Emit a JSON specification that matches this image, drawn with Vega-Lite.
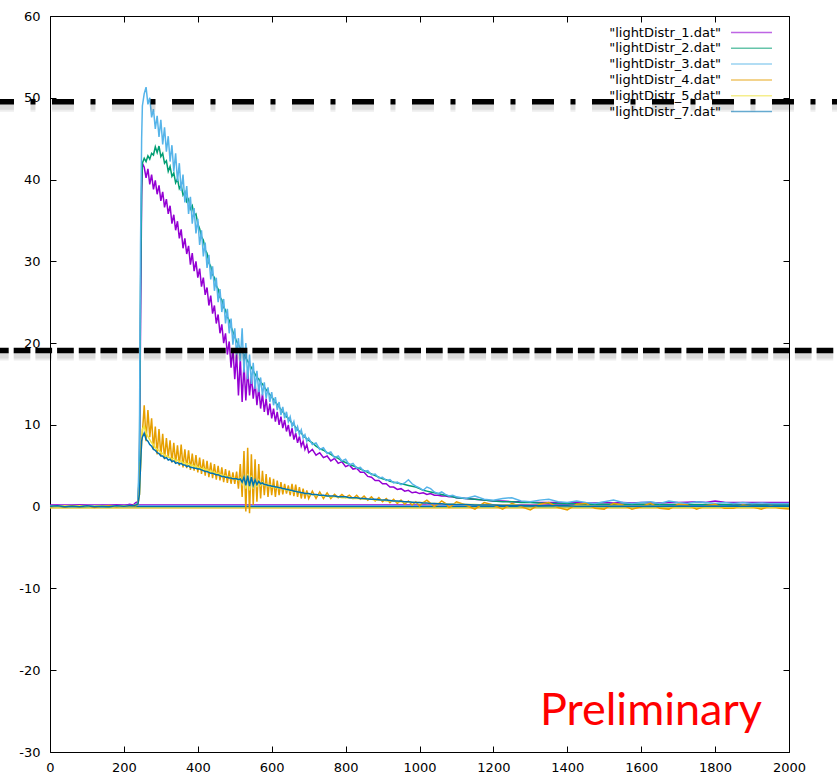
{
"$schema": "https://vega.github.io/schema/vega-lite/v6.json",
"width": 739, "height": 736,
"autosize": {"type": "none"},
"padding": {"left": 50, "top": 16, "right": 48, "bottom": 21},
"background": "white",
"config": {"view": {"stroke": "black", "strokeWidth": 1}, "font": "DejaVu Sans",
  "axis": {"grid": false, "domain": false, "tickColor": "black", "tickSize": -6, "labelFont": "DejaVu Sans", "labelFontSize": 13, "labelColor": "black", "title": null}},
"datasets": {
"curves": [
{"x":0,"d1":0.1,"d2":0.05,"d3":0.1,"d4":0.0,"d5":0.05,"d7":0.05},
{"x":20,"d1":0.15,"d2":0.1,"d3":0.05,"d4":0.1,"d5":0.0,"d7":0.1},
{"x":40,"d1":0.05,"d2":0.0,"d3":0.1,"d4":-0.05,"d5":0.1,"d7":0.0},
{"x":60,"d1":0.1,"d2":0.1,"d3":0.0,"d4":0.1,"d5":0.0,"d7":0.05},
{"x":80,"d1":0.2,"d2":0.05,"d3":0.1,"d4":0.0,"d5":0.1,"d7":0.0},
{"x":100,"d1":0.1,"d2":0.0,"d3":0.05,"d4":0.1,"d5":0.0,"d7":0.1},
{"x":120,"d1":0.0,"d2":0.1,"d3":0.1,"d4":-0.1,"d5":0.05,"d7":0.0},
{"x":140,"d1":0.15,"d2":0.05,"d3":0.0,"d4":0.05,"d5":0.1,"d7":0.05},
{"x":160,"d1":0.1,"d2":0.0,"d3":0.1,"d4":0.1,"d5":0.0,"d7":0.0},
{"x":180,"d1":0.2,"d2":0.1,"d3":0.05,"d4":0.0,"d5":0.05,"d7":0.1},
{"x":200,"d1":0.1,"d2":0.05,"d3":0.1,"d4":0.1,"d5":0.1,"d7":0.05},
{"x":215,"d1":0.3,"d2":0.1,"d3":0.15,"d4":0.05,"d5":0.1,"d7":0.1},
{"x":225,"d1":0.2,"d2":0.15,"d3":0.1,"d4":0.15,"d5":0.15,"d7":0.1},
{"x":232,"d1":0.5,"d2":0.2,"d3":0.2,"d4":0.1,"d5":0.2,"d7":0.2},
{"x":238,"d1":0.6,"d2":0.4,"d3":0.5,"d4":0.3,"d5":0.3,"d7":0.3},
{"x":242,"d1":4,"d2":5,"d3":8,"d4":1.5,"d5":1.5,"d7":1.5},
{"x":245,"d1":22,"d2":26,"d3":32,"d4":5,"d5":5,"d7":5},
{"x":248,"d1":38,"d2":39,"d3":45,"d4":8,"d5":8.5,"d7":8},
{"x":250,"d1":42.0,"d2":42.0,"d3":49.0,"d4":9.0,"d5":9.5,"d7":8.5},
{"x":255,"d1":41.5,"d2":42.6,"d3":50.5,"d4":12.4,"d5":9.8,"d7":9.0},
{"x":260,"d1":40.2,"d2":42.2,"d3":51.3,"d4":8.0,"d5":9.0,"d7":8.2},
{"x":265,"d1":41.3,"d2":42.9,"d3":49.2,"d4":11.8,"d5":8.6,"d7":8.0},
{"x":270,"d1":39.4,"d2":42.5,"d3":50.0,"d4":8.5,"d5":8.2,"d7":7.6},
{"x":275,"d1":40.6,"d2":43.2,"d3":47.6,"d4":10.8,"d5":7.8,"d7":7.4},
{"x":280,"d1":38.8,"d2":43.0,"d3":48.6,"d4":7.0,"d5":7.6,"d7":7.0},
{"x":285,"d1":39.9,"d2":44.0,"d3":46.2,"d4":9.8,"d5":7.2,"d7":6.9},
{"x":290,"d1":38.2,"d2":43.3,"d3":47.8,"d4":6.4,"d5":7.0,"d7":6.6},
{"x":295,"d1":39.3,"d2":44.1,"d3":45.2,"d4":9.5,"d5":6.9,"d7":6.5},
{"x":300,"d1":37.4,"d2":42.8,"d3":47.3,"d4":6.2,"d5":6.6,"d7":6.2},
{"x":305,"d1":38.5,"d2":43.2,"d3":44.3,"d4":8.9,"d5":6.5,"d7":6.2},
{"x":310,"d1":36.6,"d2":42.0,"d3":46.4,"d4":5.8,"d5":6.3,"d7":5.9},
{"x":315,"d1":37.6,"d2":42.3,"d3":43.4,"d4":8.4,"d5":6.2,"d7":6.0},
{"x":320,"d1":35.8,"d2":41.0,"d3":45.3,"d4":6.0,"d5":6.1,"d7":5.7},
{"x":325,"d1":36.8,"d2":41.6,"d3":42.2,"d4":8.1,"d5":6.0,"d7":5.8},
{"x":330,"d1":34.6,"d2":40.4,"d3":44.2,"d4":5.4,"d5":5.8,"d7":5.5},
{"x":335,"d1":35.7,"d2":40.8,"d3":41.0,"d4":7.8,"d5":5.9,"d7":5.6},
{"x":340,"d1":33.8,"d2":39.6,"d3":43.2,"d4":5.3,"d5":5.6,"d7":5.3},
{"x":345,"d1":34.9,"d2":40.1,"d3":39.8,"d4":7.5,"d5":5.7,"d7":5.4},
{"x":350,"d1":32.8,"d2":38.9,"d3":42.0,"d4":5.0,"d5":5.5,"d7":5.2},
{"x":355,"d1":33.9,"d2":39.3,"d3":38.6,"d4":7.6,"d5":5.6,"d7":5.3},
{"x":360,"d1":31.6,"d2":38.1,"d3":40.6,"d4":4.8,"d5":5.3,"d7":5.1},
{"x":365,"d1":32.8,"d2":38.5,"d3":37.2,"d4":7.0,"d5":5.4,"d7":5.1},
{"x":370,"d1":30.9,"d2":37.3,"d3":39.2,"d4":4.7,"d5":5.2,"d7":4.9},
{"x":375,"d1":31.9,"d2":37.6,"d3":35.8,"d4":6.9,"d5":5.3,"d7":5.0},
{"x":380,"d1":29.6,"d2":36.4,"d3":37.9,"d4":4.5,"d5":5.0,"d7":4.8},
{"x":385,"d1":31.0,"d2":36.8,"d3":34.6,"d4":6.5,"d5":5.1,"d7":4.8},
{"x":390,"d1":28.8,"d2":35.6,"d3":36.5,"d4":4.4,"d5":4.9,"d7":4.7},
{"x":395,"d1":30.0,"d2":35.8,"d3":33.4,"d4":6.3,"d5":5.0,"d7":4.7},
{"x":400,"d1":28.0,"d2":34.6,"d3":35.2,"d4":4.2,"d5":4.8,"d7":4.6},
{"x":405,"d1":29.1,"d2":34.0,"d3":32.0,"d4":6.0,"d5":4.8,"d7":4.6},
{"x":410,"d1":26.9,"d2":33.0,"d3":33.8,"d4":4.0,"d5":4.6,"d7":4.5},
{"x":415,"d1":28.0,"d2":32.6,"d3":30.6,"d4":5.8,"d5":4.7,"d7":4.4},
{"x":420,"d1":25.9,"d2":31.4,"d3":32.3,"d4":3.8,"d5":4.5,"d7":4.3},
{"x":425,"d1":26.8,"d2":31.0,"d3":29.2,"d4":5.6,"d5":4.5,"d7":4.3},
{"x":430,"d1":24.6,"d2":29.8,"d3":30.8,"d4":3.6,"d5":4.3,"d7":4.2},
{"x":435,"d1":25.8,"d2":29.4,"d3":27.8,"d4":5.4,"d5":4.4,"d7":4.1},
{"x":440,"d1":23.6,"d2":28.4,"d3":29.4,"d4":3.5,"d5":4.2,"d7":4.1},
{"x":445,"d1":24.6,"d2":28.0,"d3":26.4,"d4":5.2,"d5":4.2,"d7":4.0},
{"x":450,"d1":22.4,"d2":27.0,"d3":28.0,"d4":3.3,"d5":4.0,"d7":3.9},
{"x":455,"d1":23.5,"d2":26.6,"d3":25.0,"d4":5.0,"d5":4.1,"d7":3.9},
{"x":460,"d1":21.2,"d2":25.6,"d3":26.6,"d4":3.2,"d5":3.9,"d7":3.8},
{"x":465,"d1":22.3,"d2":25.3,"d3":23.8,"d4":4.8,"d5":3.9,"d7":3.7},
{"x":470,"d1":20.0,"d2":24.4,"d3":25.4,"d4":3.0,"d5":3.7,"d7":3.7},
{"x":475,"d1":21.2,"d2":24.0,"d3":22.4,"d4":4.6,"d5":3.8,"d7":3.6},
{"x":480,"d1":18.6,"d2":23.2,"d3":24.2,"d4":2.9,"d5":3.6,"d7":3.6},
{"x":485,"d1":20.2,"d2":22.8,"d3":21.2,"d4":4.4,"d5":3.6,"d7":3.5},
{"x":490,"d1":17.0,"d2":22.0,"d3":23.0,"d4":2.8,"d5":3.5,"d7":3.5},
{"x":495,"d1":19.4,"d2":21.4,"d3":19.8,"d4":4.2,"d5":3.5,"d7":3.4},
{"x":500,"d1":15.6,"d2":20.8,"d3":21.8,"d4":2.8,"d5":3.4,"d7":3.4},
{"x":505,"d1":18.8,"d2":20.2,"d3":18.6,"d4":4.3,"d5":3.4,"d7":3.4},
{"x":510,"d1":13.6,"d2":19.8,"d3":20.6,"d4":2.2,"d5":3.2,"d7":3.3},
{"x":515,"d1":18.2,"d2":19.4,"d3":17.8,"d4":5.2,"d5":3.5,"d7":3.4},
{"x":520,"d1":12.8,"d2":19.0,"d3":21.8,"d4":1.2,"d5":2.8,"d7":3.0},
{"x":525,"d1":17.4,"d2":18.6,"d3":16.4,"d4":6.8,"d5":3.8,"d7":3.6},
{"x":530,"d1":13.0,"d2":18.2,"d3":20.0,"d4":-0.6,"d5":2.2,"d7":2.6},
{"x":535,"d1":16.8,"d2":17.8,"d3":15.6,"d4":7.2,"d5":4.0,"d7":3.8},
{"x":540,"d1":13.6,"d2":17.4,"d3":18.6,"d4":-0.8,"d5":2.0,"d7":2.5},
{"x":545,"d1":16.0,"d2":17.0,"d3":15.0,"d4":6.4,"d5":3.8,"d7":3.6},
{"x":550,"d1":13.2,"d2":16.6,"d3":17.6,"d4":0.2,"d5":2.2,"d7":2.6},
{"x":555,"d1":15.2,"d2":16.2,"d3":14.4,"d4":5.8,"d5":3.4,"d7":3.3},
{"x":560,"d1":12.4,"d2":15.8,"d3":16.6,"d4":0.6,"d5":2.4,"d7":2.7},
{"x":565,"d1":14.6,"d2":15.6,"d3":14.0,"d4":5.2,"d5":3.2,"d7":3.1},
{"x":570,"d1":12.0,"d2":15.2,"d3":15.8,"d4":1.0,"d5":2.6,"d7":2.8},
{"x":575,"d1":13.8,"d2":15.0,"d3":13.6,"d4":4.4,"d5":3.0,"d7":2.9},
{"x":580,"d1":11.6,"d2":14.6,"d3":15.2,"d4":1.4,"d5":2.6,"d7":2.7},
{"x":585,"d1":13.2,"d2":14.3,"d3":13.2,"d4":4.0,"d5":2.8,"d7":2.7},
{"x":590,"d1":11.2,"d2":14.0,"d3":14.6,"d4":1.2,"d5":2.5,"d7":2.6},
{"x":595,"d1":12.6,"d2":13.7,"d3":12.8,"d4":3.6,"d5":2.7,"d7":2.6},
{"x":600,"d1":10.8,"d2":13.4,"d3":14.0,"d4":1.4,"d5":2.4,"d7":2.5},
{"x":605,"d1":12.0,"d2":13.1,"d3":12.4,"d4":3.4,"d5":2.5,"d7":2.5},
{"x":610,"d1":10.4,"d2":12.8,"d3":13.4,"d4":1.2,"d5":2.3,"d7":2.4},
{"x":615,"d1":11.6,"d2":12.5,"d3":11.8,"d4":3.2,"d5":2.4,"d7":2.4},
{"x":620,"d1":10.0,"d2":12.2,"d3":12.8,"d4":1.4,"d5":2.2,"d7":2.3},
{"x":625,"d1":11.0,"d2":11.9,"d3":11.2,"d4":3.0,"d5":2.3,"d7":2.3},
{"x":630,"d1":9.6,"d2":11.6,"d3":12.2,"d4":1.5,"d5":2.1,"d7":2.2},
{"x":635,"d1":10.6,"d2":11.3,"d3":10.8,"d4":2.8,"d5":2.2,"d7":2.2},
{"x":640,"d1":9.2,"d2":11.0,"d3":11.6,"d4":1.6,"d5":2.0,"d7":2.1},
{"x":645,"d1":10.0,"d2":10.8,"d3":10.4,"d4":2.6,"d5":2.1,"d7":2.1},
{"x":650,"d1":8.6,"d2":10.5,"d3":11.0,"d4":1.4,"d5":1.9,"d7":2.0},
{"x":655,"d1":9.6,"d2":10.2,"d3":9.8,"d4":2.8,"d5":2.0,"d7":2.0},
{"x":660,"d1":8.2,"d2":10.0,"d3":10.4,"d4":1.3,"d5":1.8,"d7":1.9},
{"x":665,"d1":9.0,"d2":9.7,"d3":9.2,"d4":2.7,"d5":1.9,"d7":1.9},
{"x":670,"d1":7.8,"d2":9.4,"d3":9.8,"d4":1.2,"d5":1.8,"d7":1.8},
{"x":675,"d1":8.6,"d2":9.2,"d3":8.8,"d4":2.4,"d5":1.8,"d7":1.8},
{"x":680,"d1":7.4,"d2":9.0,"d3":9.4,"d4":1.0,"d5":1.7,"d7":1.7},
{"x":685,"d1":8.0,"d2":8.7,"d3":8.4,"d4":2.2,"d5":1.7,"d7":1.7},
{"x":690,"d1":7.0,"d2":8.5,"d3":8.8,"d4":1.0,"d5":1.6,"d7":1.6},
{"x":695,"d1":7.6,"d2":8.3,"d3":8.0,"d4":2.0,"d5":1.6,"d7":1.6},
{"x":700,"d1":6.6,"d2":8.1,"d3":8.4,"d4":1.0,"d5":1.5,"d7":1.6},
{"x":710,"d1":7.0,"d2":7.8,"d3":7.6,"d4":1.9,"d5":1.5,"d7":1.5},
{"x":720,"d1":6.3,"d2":7.4,"d3":7.8,"d4":1.0,"d5":1.4,"d7":1.5},
{"x":730,"d1":6.6,"d2":7.1,"d3":7.0,"d4":1.8,"d5":1.4,"d7":1.4},
{"x":740,"d1":6.0,"d2":6.9,"d3":7.2,"d4":1.0,"d5":1.3,"d7":1.4},
{"x":750,"d1":6.2,"d2":6.6,"d3":6.5,"d4":1.7,"d5":1.3,"d7":1.3},
{"x":760,"d1":5.6,"d2":6.4,"d3":6.7,"d4":1.0,"d5":1.2,"d7":1.3},
{"x":770,"d1":5.9,"d2":6.1,"d3":6.0,"d4":1.5,"d5":1.2,"d7":1.3},
{"x":780,"d1":5.3,"d2":5.9,"d3":6.2,"d4":1.1,"d5":1.2,"d7":1.2},
{"x":790,"d1":5.5,"d2":5.6,"d3":5.6,"d4":1.5,"d5":1.1,"d7":1.2},
{"x":800,"d1":4.9,"d2":5.4,"d3":5.8,"d4":1.1,"d5":1.1,"d7":1.2},
{"x":810,"d1":5.1,"d2":5.2,"d3":5.1,"d4":1.4,"d5":1.1,"d7":1.1},
{"x":820,"d1":4.6,"d2":5.0,"d3":5.3,"d4":1.0,"d5":1.0,"d7":1.1},
{"x":830,"d1":4.7,"d2":4.8,"d3":4.7,"d4":1.4,"d5":1.0,"d7":1.1},
{"x":840,"d1":4.2,"d2":4.6,"d3":4.8,"d4":0.9,"d5":1.0,"d7":1.0},
{"x":850,"d1":4.2,"d2":4.4,"d3":4.3,"d4":1.3,"d5":0.9,"d7":1.0},
{"x":860,"d1":3.7,"d2":4.2,"d3":4.4,"d4":0.8,"d5":0.9,"d7":0.95},
{"x":870,"d1":3.6,"d2":4.0,"d3":3.9,"d4":1.2,"d5":0.9,"d7":0.9},
{"x":880,"d1":3.2,"d2":3.8,"d3":4.0,"d4":0.7,"d5":0.8,"d7":0.9},
{"x":890,"d1":3.2,"d2":3.6,"d3":3.5,"d4":1.1,"d5":0.8,"d7":0.85},
{"x":900,"d1":2.8,"d2":3.4,"d3":3.6,"d4":0.6,"d5":0.8,"d7":0.8},
{"x":910,"d1":2.8,"d2":3.3,"d3":3.2,"d4":1.0,"d5":0.7,"d7":0.8},
{"x":920,"d1":2.4,"d2":3.1,"d3":3.3,"d4":0.5,"d5":0.7,"d7":0.75},
{"x":930,"d1":2.4,"d2":3.0,"d3":2.9,"d4":0.9,"d5":0.7,"d7":0.7},
{"x":940,"d1":2.1,"d2":2.9,"d3":3.0,"d4":0.4,"d5":0.6,"d7":0.7},
{"x":950,"d1":2.2,"d2":2.8,"d3":2.7,"d4":0.8,"d5":0.6,"d7":0.65},
{"x":960,"d1":1.9,"d2":2.7,"d3":2.9,"d4":0.3,"d5":0.6,"d7":0.6},
{"x":970,"d1":2.0,"d2":2.6,"d3":3.3,"d4":0.7,"d5":0.6,"d7":0.6},
{"x":980,"d1":1.7,"d2":2.5,"d3":2.8,"d4":0.2,"d5":0.5,"d7":0.55},
{"x":990,"d1":1.8,"d2":2.4,"d3":2.5,"d4":0.6,"d5":0.5,"d7":0.5},
{"x":1000,"d1":1.6,"d2":2.2,"d3":2.3,"d4":0.1,"d5":0.5,"d7":0.5},
{"x":1010,"d1":1.7,"d2":2.0,"d3":2.0,"d4":0.5,"d5":0.5,"d7":0.45},
{"x":1020,"d1":1.5,"d2":1.9,"d3":2.4,"d4":0.8,"d5":0.4,"d7":0.45},
{"x":1030,"d1":1.6,"d2":1.8,"d3":2.2,"d4":0.4,"d5":0.4,"d7":0.4},
{"x":1040,"d1":1.4,"d2":1.7,"d3":1.8,"d4":0.0,"d5":0.4,"d7":0.4},
{"x":1050,"d1":1.4,"d2":1.6,"d3":1.6,"d4":0.3,"d5":0.4,"d7":0.35},
{"x":1060,"d1":1.3,"d2":1.5,"d3":1.8,"d4":0.7,"d5":0.35,"d7":0.35},
{"x":1070,"d1":1.3,"d2":1.4,"d3":1.5,"d4":0.4,"d5":0.35,"d7":0.3},
{"x":1080,"d1":1.2,"d2":1.3,"d3":1.3,"d4":-0.1,"d5":0.3,"d7":0.3},
{"x":1090,"d1":1.2,"d2":1.2,"d3":1.4,"d4":0.2,"d5":0.3,"d7":0.3},
{"x":1100,"d1":1.1,"d2":1.1,"d3":1.2,"d4":0.6,"d5":0.3,"d7":0.25},
{"x":1125,"d1":1.0,"d2":1.0,"d3":1.0,"d4":0.2,"d5":0.25,"d7":0.25},
{"x":1150,"d1":0.9,"d2":0.9,"d3":1.3,"d4":-0.3,"d5":0.25,"d7":0.2},
{"x":1175,"d1":0.8,"d2":0.8,"d3":0.9,"d4":0.5,"d5":0.2,"d7":0.2},
{"x":1200,"d1":0.7,"d2":0.7,"d3":0.8,"d4":0.2,"d5":0.2,"d7":0.2},
{"x":1225,"d1":0.7,"d2":0.6,"d3":1.0,"d4":-0.3,"d5":0.2,"d7":0.15},
{"x":1250,"d1":0.6,"d2":0.6,"d3":1.1,"d4":0.4,"d5":0.2,"d7":0.15},
{"x":1275,"d1":0.6,"d2":0.5,"d3":0.7,"d4":0.0,"d5":0.15,"d7":0.15},
{"x":1300,"d1":0.55,"d2":0.5,"d3":0.6,"d4":-0.4,"d5":0.15,"d7":0.1},
{"x":1325,"d1":0.5,"d2":0.45,"d3":0.8,"d4":0.3,"d5":0.15,"d7":0.1},
{"x":1350,"d1":0.5,"d2":0.4,"d3":0.9,"d4":0.5,"d5":0.1,"d7":0.1},
{"x":1375,"d1":0.5,"d2":0.4,"d3":0.6,"d4":-0.1,"d5":0.1,"d7":0.1},
{"x":1400,"d1":0.45,"d2":0.35,"d3":0.5,"d4":-0.4,"d5":0.1,"d7":0.1},
{"x":1425,"d1":0.5,"d2":0.35,"d3":0.7,"d4":0.3,"d5":0.1,"d7":0.05},
{"x":1450,"d1":0.45,"d2":0.3,"d3":0.5,"d4":0.4,"d5":0.1,"d7":0.05},
{"x":1475,"d1":0.45,"d2":0.3,"d3":0.4,"d4":-0.2,"d5":0.05,"d7":0.05},
{"x":1500,"d1":0.5,"d2":0.3,"d3":0.6,"d4":-0.3,"d5":0.05,"d7":0.05},
{"x":1525,"d1":0.45,"d2":0.3,"d3":0.8,"d4":0.4,"d5":0.05,"d7":0.05},
{"x":1550,"d1":0.5,"d2":0.3,"d3":0.5,"d4":0.2,"d5":0.05,"d7":0.05},
{"x":1575,"d1":0.45,"d2":0.3,"d3":0.4,"d4":-0.3,"d5":0.05,"d7":0.05},
{"x":1600,"d1":0.5,"d2":0.3,"d3":0.5,"d4":0.0,"d5":0.05,"d7":0.05},
{"x":1625,"d1":0.5,"d2":0.3,"d3":0.6,"d4":0.4,"d5":0.05,"d7":0.05},
{"x":1650,"d1":0.45,"d2":0.25,"d3":0.4,"d4":-0.2,"d5":0.05,"d7":0.05},
{"x":1675,"d1":0.5,"d2":0.25,"d3":0.7,"d4":-0.3,"d5":0.0,"d7":0.05},
{"x":1700,"d1":0.5,"d2":0.25,"d3":0.5,"d4":0.3,"d5":0.0,"d7":0.05},
{"x":1725,"d1":0.55,"d2":0.25,"d3":0.4,"d4":0.2,"d5":0.0,"d7":0.05},
{"x":1750,"d1":0.6,"d2":0.25,"d3":0.6,"d4":-0.3,"d5":0.0,"d7":0.05},
{"x":1775,"d1":0.5,"d2":0.25,"d3":0.5,"d4":0.1,"d5":0.0,"d7":0.05},
{"x":1800,"d1":0.7,"d2":0.25,"d3":0.4,"d4":0.3,"d5":0.0,"d7":0.05},
{"x":1825,"d1":0.55,"d2":0.25,"d3":0.5,"d4":-0.2,"d5":0.0,"d7":0.05},
{"x":1850,"d1":0.5,"d2":0.2,"d3":0.4,"d4":-0.2,"d5":0.0,"d7":0.05},
{"x":1875,"d1":0.5,"d2":0.2,"d3":0.5,"d4":0.2,"d5":0.0,"d7":0.05},
{"x":1900,"d1":0.5,"d2":0.2,"d3":0.4,"d4":0.0,"d5":0.0,"d7":0.05},
{"x":1925,"d1":0.5,"d2":0.2,"d3":0.45,"d4":-0.3,"d5":0.0,"d7":0.05},
{"x":1950,"d1":0.5,"d2":0.2,"d3":0.4,"d4":0.1,"d5":0.0,"d7":0.05},
{"x":1975,"d1":0.5,"d2":0.2,"d3":0.4,"d4":-0.2,"d5":0.0,"d7":0.05},
{"x":2000,"d1":0.5,"d2":0.2,"d3":0.4,"d4":-0.3,"d5":0.0,"d7":0.05}
],
"flat": [
{"s":"d1","v":0.2},{"s":"d2","v":0.0},{"s":"d3","v":0.1},{"s":"d4","v":-0.15},{"s":"d5","v":-0.1},{"s":"d7","v":0.0}
],
"one": [{}]
},
"resolve": {"axis": {"x": "independent", "y": "independent"}},
"layer": [
{
  "data": {"name": "flat"},
  "mark": {"type": "rule", "strokeWidth": 1.4},
  "encoding": {
    "y": {"field": "v", "type": "quantitative", "scale": {"domain": [-30, 60], "nice": false, "zero": false}, "axis": null},
    "color": {"field": "s", "type": "nominal",
      "scale": {"domain": ["d1","d2","d3","d4","d5","d7"], "range": ["#9400d3","#009e73","#56b4e9","#e69f00","#f0e442","#0072b2"]},
      "legend": {"orient": "none", "legendX": 695, "legendY": 10, "title": null, "padding": 0,
        "symbolType": "M-4,0H4", "symbolSize": 105, "symbolStrokeWidth": 1.5, "symbolOpacity": 0.6,
        "labelAlign": "right", "labelOffset": -37, "labelFontSize": 13, "labelFont": "DejaVu Sans", "labelColor": "black",
        "rowPadding": 1.8,
        "labelExpr": "'\"lightDistr_' + substring(datum.label, 1) + '.dat\"'"}}
  }
},
{
  "data": {"name": "curves"},
  "transform": [{"fold": ["d1","d2","d3","d4","d5","d7"], "as": ["s","v"]}],
  "mark": {"type": "line", "strokeWidth": 1.5},
  "encoding": {
    "x": {"field": "x", "type": "quantitative", "scale": {"domain": [0, 2000], "nice": false, "zero": false},
      "axis": {"orient": "bottom", "values": [0,200,400,600,800,1000,1200,1400,1600,1800,2000], "labelExpr": "toString(datum.value)", "labelPadding": 15, "labelFlush": false}},
    "y": {"field": "v", "type": "quantitative", "scale": {"domain": [-30, 60], "nice": false, "zero": false},
      "axis": {"orient": "left", "values": [-30,-20,-10,0,10,20,30,40,50,60], "labelExpr": "toString(datum.value)", "labelPadding": 16}},
    "color": {"field": "s", "type": "nominal",
      "scale": {"domain": ["d1","d2","d3","d4","d5","d7"], "range": ["#9400d3","#009e73","#56b4e9","#e69f00","#f0e442","#0072b2"]},
      "legend": {"orient": "none", "legendX": 695, "legendY": 10, "title": null, "padding": 0,
        "symbolType": "M-4,0H4", "symbolSize": 105, "symbolStrokeWidth": 1.5, "symbolOpacity": 0.6,
        "labelAlign": "right", "labelOffset": -37, "labelFontSize": 13, "labelFont": "DejaVu Sans", "labelColor": "black",
        "rowPadding": 1.8,
        "labelExpr": "'\"lightDistr_' + substring(datum.label, 1) + '.dat\"'"}}
  }
},
{
  "data": {"name": "one"},
  "mark": {"type": "rule", "color": "black", "opacity": 0.07, "strokeWidth": 10, "strokeDash": [22, 16.5, 5, 16.5], "yOffset": 5},
  "encoding": {"x": {"datum": -157, "scale": {"domain": [0, 2000], "nice": false, "zero": false}, "axis": null}, "x2": {"datum": 2140},
    "y": {"datum": 49.5, "scale": {"domain": [-30, 60], "nice": false, "zero": false}, "axis": null}}
},
{
  "data": {"name": "one"},
  "mark": {"type": "rule", "color": "black", "opacity": 0.08, "strokeWidth": 6, "strokeDash": [22, 16.5, 5, 16.5], "yOffset": 5},
  "encoding": {"x": {"datum": -157, "scale": {"domain": [0, 2000], "nice": false, "zero": false}, "axis": null}, "x2": {"datum": 2140},
    "y": {"datum": 49.5, "scale": {"domain": [-30, 60], "nice": false, "zero": false}, "axis": null}}
},
{
  "data": {"name": "one"},
  "mark": {"type": "rule", "color": "black", "opacity": 0.07, "strokeWidth": 10, "strokeDash": [16.7, 5], "yOffset": 5},
  "encoding": {"x": {"datum": -157, "scale": {"domain": [0, 2000], "nice": false, "zero": false}, "axis": null}, "x2": {"datum": 2140},
    "y": {"datum": 19.1, "scale": {"domain": [-30, 60], "nice": false, "zero": false}, "axis": null}}
},
{
  "data": {"name": "one"},
  "mark": {"type": "rule", "color": "black", "opacity": 0.08, "strokeWidth": 6, "strokeDash": [16.7, 5], "yOffset": 5},
  "encoding": {"x": {"datum": -157, "scale": {"domain": [0, 2000], "nice": false, "zero": false}, "axis": null}, "x2": {"datum": 2140},
    "y": {"datum": 19.1, "scale": {"domain": [-30, 60], "nice": false, "zero": false}, "axis": null}}
},
{
  "data": {"name": "one"},
  "mark": {"type": "rule", "color": "black", "strokeWidth": 5.5, "strokeDash": [22, 16.5, 5, 16.5]},
  "encoding": {"x": {"datum": -157, "scale": {"domain": [0, 2000], "nice": false, "zero": false},
      "axis": {"orient": "top", "values": [0,200,400,600,800,1000,1200,1400,1600,1800,2000], "labels": false}}, "x2": {"datum": 2140},
    "y": {"datum": 49.5, "scale": {"domain": [-30, 60], "nice": false, "zero": false},
      "axis": {"orient": "right", "values": [-30,-20,-10,0,10,20,30,40,50,60], "labels": false}}}
},
{
  "data": {"name": "one"},
  "mark": {"type": "rule", "color": "black", "strokeWidth": 5.5, "strokeDash": [16.7, 5]},
  "encoding": {"x": {"datum": -157, "scale": {"domain": [0, 2000], "nice": false, "zero": false}, "axis": null}, "x2": {"datum": 2140},
    "y": {"datum": 19.1, "scale": {"domain": [-30, 60], "nice": false, "zero": false}, "axis": null}}
},
{
  "data": {"name": "one"},
  "mark": {"type": "text", "text": "Preliminary", "color": "#ff0000", "font": "Lato", "fontSize": 45, "align": "right", "baseline": "alphabetic"},
  "encoding": {"x": {"datum": 1927, "scale": {"domain": [0, 2000], "nice": false, "zero": false}, "axis": null},
    "y": {"datum": -26.7, "scale": {"domain": [-30, 60], "nice": false, "zero": false}, "axis": null}}
}
]
}
